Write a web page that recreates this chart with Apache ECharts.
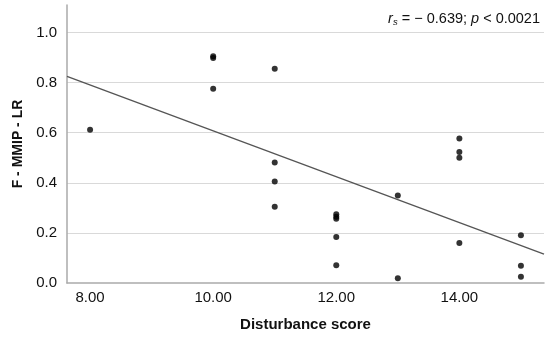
<!DOCTYPE html>
<html><head><meta charset="utf-8">
<script src="https://cdn.jsdelivr.net/npm/echarts@6/dist/echarts.min.js"></script>
<style>html,body{margin:0;padding:0;background:#fff}#c{width:550px;height:338px}</style>
</head><body><div id="c"></div>
<script>
var xScores = [8, 10, 10, 10, 11, 11, 11, 11, 12, 12, 12, 12, 12, 13, 13, 14, 14, 14, 14, 15, 15, 15];
var yValues = [0.612, 0.905, 0.898, 0.776, 0.855, 0.481, 0.405, 0.304, 0.275, 0.265, 0.257, 0.184, 0.071, 0.349, 0.019, 0.577, 0.523, 0.500, 0.160, 0.191, 0.069, 0.025];
var fitX = [7.625, 15.375];
var fitY = [0.825, 0.115];
var xTicks = [8, 10, 12, 14];
var yTicks = [0, 0.2, 0.4, 0.6, 0.8, 1.0];

var pts = xScores.map(function (x, i) { return [x, yValues[i]]; });
var fit = fitX.map(function (x, i) { return [x, fitY[i]]; });
var font = 'Liberation Sans, Arial, sans-serif';

var chart = echarts.init(document.getElementById('c'), null, {renderer: 'canvas'});
chart.setOption({
  animation: false,
  backgroundColor: '#fff',
  grid: {left: 67, right: 6, top: 5, bottom: 55},
  xAxis: {
    type: 'value', min: 7.625, max: 15.375,
    name: 'Disturbance score', nameLocation: 'middle', nameGap: 34,
    nameTextStyle: {fontFamily: font, fontWeight: 'bold', fontSize: 15, color: '#111'},
    axisLine: {show: true, lineStyle: {color: '#aaa', width: 1.5}},
    axisTick: {show: false},
    splitLine: {show: false},
    axisLabel: {customValues: xTicks, fontFamily: font, fontSize: 15, color: '#111', margin: 7,
      formatter: function (v) { return v.toFixed(2); }}
  },
  yAxis: {
    type: 'value', min: 0, max: 1.11,
    name: 'F - MMIP - LR', nameLocation: 'middle', nameGap: 42,
    nameTextStyle: {fontFamily: font, fontWeight: 'bold', fontSize: 14, color: '#111'},
    axisLine: {show: true, lineStyle: {color: '#aaa', width: 1.5}},
    axisTick: {show: false},
    splitLine: {show: true, showMinLine: false, showMaxLine: false, lineStyle: {color: '#d9d9d9', width: 1.2}},
    axisLabel: {customValues: yTicks, fontFamily: font, fontSize: 15, color: '#111', margin: 10,
      formatter: function (v) { return v.toFixed(1); }},
    interval: 0.2
  },
  series: [
    {type: 'line', data: fit, symbol: 'none', lineStyle: {color: '#555', width: 1.3}, silent: true, z: 2},
    {type: 'scatter', data: pts, symbolSize: 6, itemStyle: {color: '#000'}, z: 3}
  ],
  graphic: [{
    type: 'text', right: 10, top: 11,
    style: {
      text: '{i|r}{sub|s}{n| = − 0.639; }{i|p}{n| < 0.0021}',
      rich: {
        i: {fontFamily: font, fontStyle: 'italic', fontSize: 14.5, fill: '#111'},
        sub: {fontFamily: font, fontStyle: 'italic', fontSize: 9.5, fill: '#111', padding: [8, 0, 0, 0]},
        n: {fontFamily: font, fontSize: 14.5, fill: '#111'}
      }
    }
  }]
});
</script></body></html>
